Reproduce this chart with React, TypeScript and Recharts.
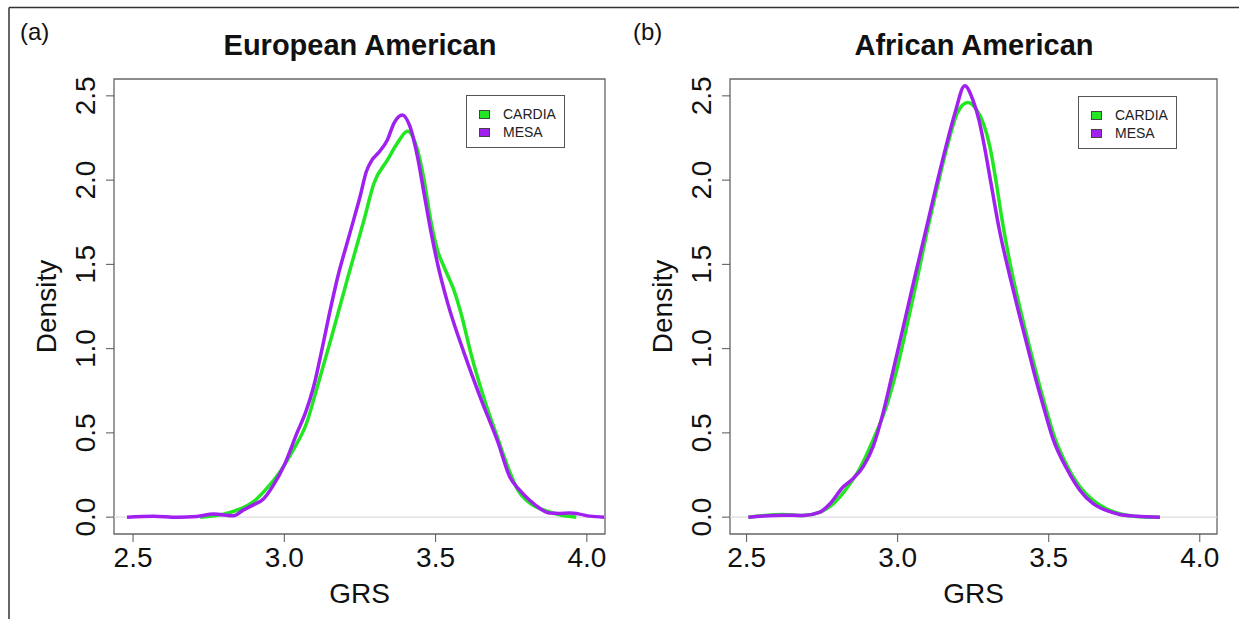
import { Legend, Line, LineChart, ReferenceArea, ReferenceLine, XAxis, YAxis } from "recharts";

const FONT = '"Liberation Sans", Arial, Helvetica, sans-serif';
const GREEN = "#22e622";
const PURPLE = "#a020f0";

const xTicks = [2.5, 3.0, 3.5, 4.0];
const yTicks = [0, 0.5, 1.0, 1.5, 2.0, 2.5];
const yDomain: [number, number] = [-0.1, 2.6];

// (a) European American
const euroCardiaX = [2.722, 2.799, 2.854, 2.898, 2.942, 2.986, 3.03, 3.074, 3.11, 3.153, 3.208, 3.263, 3.296, 3.341, 3.374, 3.407, 3.44, 3.462, 3.484, 3.507, 3.529, 3.562, 3.584, 3.617, 3.661, 3.707, 3.745, 3.772, 3.8, 3.822, 3.866, 3.91, 3.965];
const euroCardiaY = [0, 0.018, 0.049, 0.092, 0.171, 0.27, 0.4, 0.56, 0.78, 1.05, 1.41, 1.76, 1.98, 2.12, 2.22, 2.29, 2.18, 2.0, 1.76, 1.58, 1.48, 1.34, 1.21, 0.97, 0.7, 0.46, 0.27, 0.16, 0.1, 0.07, 0.037, 0.014, 0];
const euroMesaX = [2.48, 2.568, 2.645, 2.711, 2.766, 2.832, 2.865, 2.898, 2.931, 2.964, 3.0, 3.042, 3.07, 3.097, 3.125, 3.153, 3.18, 3.208, 3.23, 3.25, 3.271, 3.29, 3.31, 3.341, 3.363, 3.39, 3.415, 3.44, 3.462, 3.484, 3.507, 3.54, 3.595, 3.65, 3.707, 3.745, 3.778, 3.811, 3.844, 3.877, 3.91, 3.943, 3.976, 4.009, 4.058];
const euroMesaY = [0, 0.006, 0, 0.004, 0.018, 0.008, 0.043, 0.073, 0.108, 0.19, 0.31, 0.5, 0.62, 0.775, 1.0, 1.24, 1.45, 1.63, 1.77, 1.9, 2.05, 2.12, 2.16, 2.24, 2.34, 2.387, 2.32, 2.14, 1.92, 1.7, 1.5, 1.27, 0.97, 0.7, 0.44, 0.24, 0.16, 0.1, 0.053, 0.024, 0.022, 0.024, 0.018, 0.006, 0];

// (b) African American
const afroCardiaX = [2.506, 2.621, 2.687, 2.743, 2.787, 2.831, 2.875, 2.919, 2.963, 2.994, 3.03, 3.064, 3.098, 3.13, 3.164, 3.198, 3.232, 3.26, 3.285, 3.305, 3.325, 3.345, 3.375, 3.405, 3.435, 3.458, 3.49, 3.52, 3.559, 3.603, 3.647, 3.691, 3.735, 3.79, 3.868];
const afroCardiaY = [0, 0.016, 0.01, 0.03, 0.08, 0.17, 0.29, 0.46, 0.66, 0.854, 1.13, 1.41, 1.7, 1.95, 2.2, 2.4, 2.46, 2.42, 2.33, 2.2, 2.0, 1.77, 1.48, 1.24, 1.02, 0.86, 0.65, 0.47, 0.31, 0.18, 0.1, 0.05, 0.02, 0.004, 0];
const afroMesaX = [2.506, 2.621, 2.687, 2.743, 2.776, 2.82, 2.853, 2.886, 2.919, 2.952, 2.983, 3.02, 3.056, 3.093, 3.127, 3.16, 3.19, 3.222, 3.25, 3.27, 3.285, 3.31, 3.336, 3.37, 3.4, 3.43, 3.452, 3.482, 3.515, 3.559, 3.603, 3.647, 3.691, 3.735, 3.79, 3.868];
const afroMesaY = [0, 0.012, 0.01, 0.03, 0.08, 0.18, 0.23, 0.3, 0.42, 0.62, 0.854, 1.14, 1.42, 1.7, 1.96, 2.2, 2.4, 2.56, 2.47, 2.35, 2.22, 1.97, 1.71, 1.44, 1.22, 1.01, 0.854, 0.66, 0.46, 0.29, 0.16, 0.08, 0.04, 0.016, 0.006, 0];

const toPoints = (xs: number[], ys: number[]) => xs.map((x, i) => ({ x, y: ys[i] }));

const YTick = (props: any) => {
  const { x, y, payload } = props;
  const bx = x - 9;
  return (
    <text
      x={bx}
      y={y}
      transform={`rotate(-90 ${bx} ${y})`}
      textAnchor="middle"
      fontSize={28}
      fontFamily={FONT}
      fill="#111"
    >
      {Number(payload.value).toFixed(1)}
    </text>
  );
};

const LegendBox = (props: any) => {
  const items = props.payload || [];
  return (
    <div
      style={{
        position: "relative",
        width: 99,
        height: 53,
        boxSizing: "border-box",
        border: "1px solid #555",
        background: "#fff",
        fontFamily: FONT,
      }}
    >
      {items.map((p: any, i: number) => (
        <div
          key={p.value}
          style={{ position: "absolute", left: 12, top: 11 + i * 18, height: 14, display: "flex", alignItems: "center" }}
        >
          <span
            style={{ display: "inline-block", width: 11, height: 9, boxSizing: "border-box", background: p.color, border: "1px solid #444" }}
          />
          <span style={{ marginLeft: 13, fontSize: 14, color: "#222", lineHeight: "14px" }}>{p.value}</span>
        </div>
      ))}
    </div>
  );
};

interface PanelProps {
  left: number;
  width: number;
  marginRight: number;
  xDomain: [number, number];
  cardia: { x: number; y: number }[];
  mesa: { x: number; y: number }[];
  legendLeft: number;
  legendTop: number;
}

function Panel({ left, width, marginRight, xDomain, cardia, mesa, legendLeft, legendTop }: PanelProps) {
  return (
    <div style={{ position: "absolute", left, top: 0 }}>
      <LineChart width={width} height={619} margin={{ top: 79, right: marginRight, bottom: 15, left: 54 }}>
        <XAxis
          dataKey="x"
          type="number"
          domain={xDomain}
          ticks={xTicks}
          allowDataOverflow
          axisLine={false}
          tickLine={{ stroke: "#555" }}
          tickSize={8}
          tickMargin={5}
          height={70}
          tick={{ fontSize: 28, fill: "#111", fontFamily: FONT }}
          tickFormatter={(v: number) => v.toFixed(1)}
          label={{
            content: ({ viewBox }: any) => (
              <text x={viewBox.x + viewBox.width / 2} y={viewBox.y + 69} textAnchor="middle" fontSize={28} fontFamily={FONT} fill="#111">
                GRS
              </text>
            ),
          }}
        />
        <YAxis
          type="number"
          domain={yDomain}
          ticks={yTicks}
          allowDataOverflow
          axisLine={false}
          tickLine={{ stroke: "#555" }}
          tickSize={8}
          width={60}
          tick={<YTick />}
          label={{
            content: ({ viewBox }: any) => {
              const cx = viewBox.x + 2;
              const cy = viewBox.y + viewBox.height / 2;
              return (
                <text x={cx} y={cy} transform={`rotate(-90 ${cx} ${cy})`} textAnchor="middle" fontSize={28} fontFamily={FONT} fill="#111">
                  Density
                </text>
              );
            },
          }}
        />
        <ReferenceLine y={0} stroke="#dddddd" strokeWidth={1.2} />
        <ReferenceArea x1={xDomain[0]} x2={xDomain[1]} y1={yDomain[0]} y2={yDomain[1]} fill="none" stroke="#666" strokeWidth={1.3} />
        <Line data={cardia} dataKey="y" name="CARDIA" type="monotone" stroke={GREEN} strokeWidth={3.5} dot={false} isAnimationActive={false} />
        <Line data={mesa} dataKey="y" name="MESA" type="monotone" stroke={PURPLE} strokeWidth={3.5} dot={false} isAnimationActive={false} />
        <Legend
          layout="horizontal"
          verticalAlign="middle"
          align="center"
          wrapperStyle={{ left: legendLeft, top: legendTop, width: 99, height: 53 }}
          content={<LegendBox />}
        />
      </LineChart>
    </div>
  );
}

export default function App() {
  return (
    <div style={{ position: "absolute", left: 0, top: 0, width: 1239, height: 619, background: "#fff", fontFamily: FONT }}>
      <svg width={1239} height={619} style={{ position: "absolute", left: 0, top: 0 }}>
        <line x1={9} y1={7.5} x2={1239} y2={7.5} stroke="#333" strokeWidth={1.5} />
        <line x1={9} y1={7.5} x2={9} y2={619} stroke="#333" strokeWidth={1.5} />
        <text x={20} y={40} fontSize={24} fontFamily={FONT} fill="#111">(a)</text>
        <text x={633} y={40} fontSize={24} fontFamily={FONT} fill="#111">(b)</text>
        <text x={360} y={55} textAnchor="middle" fontSize={29} fontWeight="bold" fontFamily={FONT} fill="#111">European American</text>
        <text x={974} y={55} textAnchor="middle" fontSize={29} fontWeight="bold" fontFamily={FONT} fill="#111">African American</text>
      </svg>
      <Panel
        left={0}
        width={620}
        marginRight={15}
        xDomain={[2.437, 4.06]}
        cardia={toPoints(euroCardiaX, euroCardiaY)}
        mesa={toPoints(euroMesaX, euroMesaY)}
        legendLeft={466}
        legendTop={95}
      />
      <Panel
        left={616}
        width={623}
        marginRight={22}
        xDomain={[2.445, 4.057]}
        cardia={toPoints(afroCardiaX, afroCardiaY)}
        mesa={toPoints(afroMesaX, afroMesaY)}
        legendLeft={462}
        legendTop={96}
      />
    </div>
  );
}
